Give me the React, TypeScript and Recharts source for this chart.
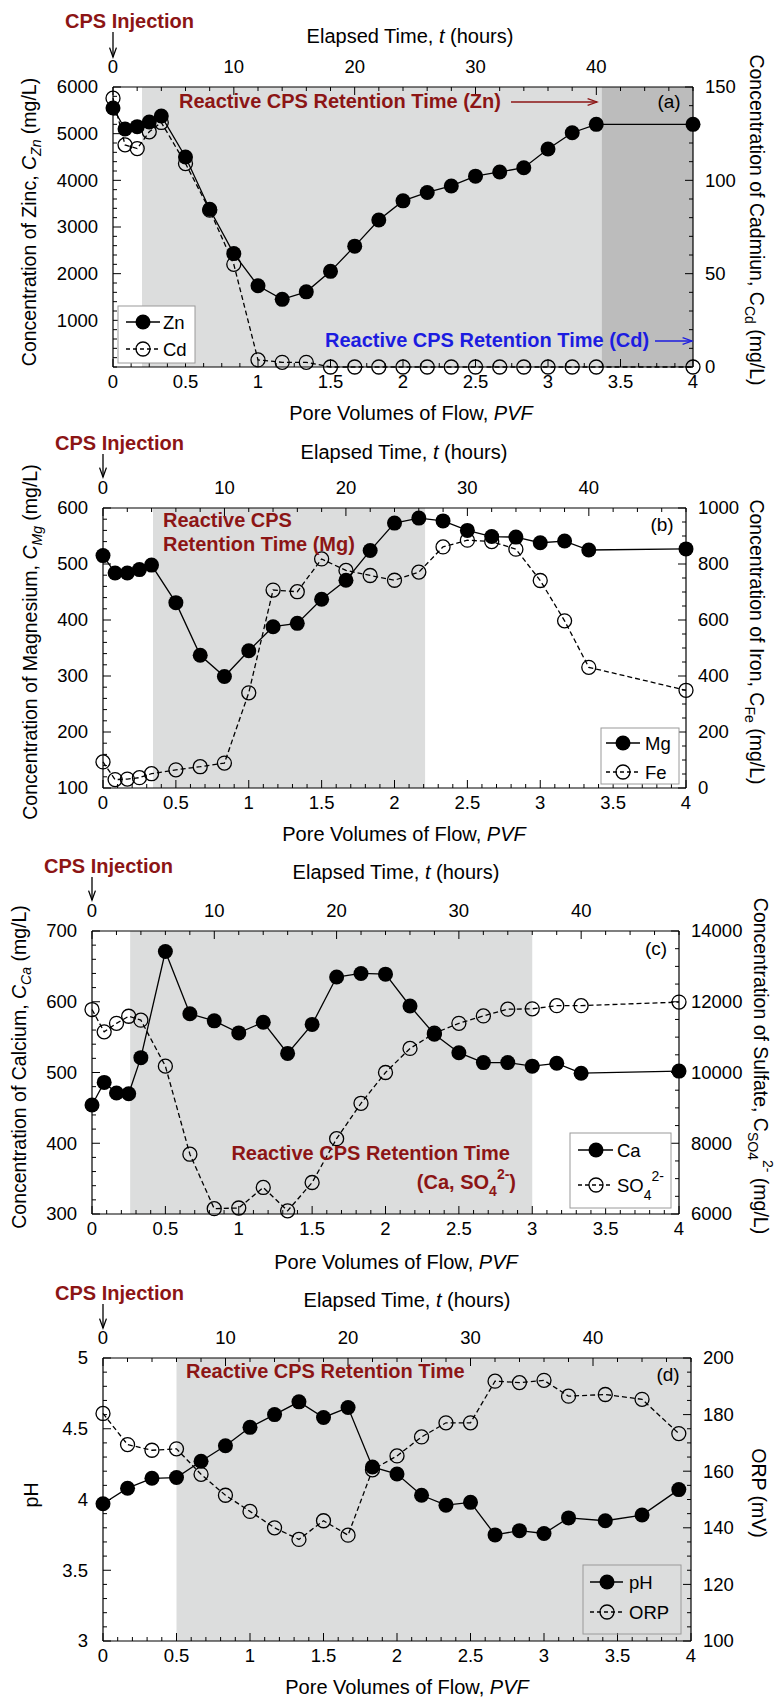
import React from 'react';
import { ComposedChart, Line, XAxis, YAxis, ReferenceArea } from 'recharts';

const FONT = "'Liberation Sans', Arial, Helvetica, sans-serif";
const RED = '#8c1515';
const BLUE = '#1c1ce0';
const SHADE = '#dcdddd';
const SHADE_DARK = '#bcbcbc';

// ---------- Panel (a): Zn / Cd ----------
const pvfA = [0, 0.083, 0.167, 0.25, 0.333, 0.5, 0.667, 0.833, 1, 1.167, 1.333, 1.5, 1.667, 1.833, 2, 2.167, 2.333, 2.5, 2.667, 2.833, 3, 3.167, 3.333, 4];
const zincA = [5550, 5100, 5150, 5250, 5380, 4500, 3380, 2430, 1740, 1450, 1610, 2050, 2590, 3150, 3560, 3740, 3880, 4090, 4180, 4270, 4670, 5020, 5200, 5200];
const cadmiumA = [144, 119, 117, 126, 131, 109, 84, 55, 3.8, 2.5, 2.5, 0, 0, 0, 0, 0, 0, 0, 0, 0, 0, 0, 0, 0];

// ---------- Panel (b): Mg / Fe ----------
const pvfB = [0, 0.083, 0.167, 0.25, 0.333, 0.5, 0.667, 0.833, 1, 1.167, 1.333, 1.5, 1.667, 1.833, 2, 2.167, 2.333, 2.5, 2.667, 2.833, 3, 3.167, 3.333, 4];
const magnesiumB = [515, 484, 484, 490, 498, 431, 337, 299, 345, 388, 394, 437, 471, 524, 573, 582, 577, 560, 549, 548, 538, 541, 525, 527];
const ironB = [93, 30, 32, 37, 51, 65, 76, 89, 340, 707, 701, 818, 777, 759, 742, 771, 861, 885, 880, 853, 741, 597, 431, 349];

// ---------- Panel (c): Ca / SO4 ----------
const pvfC = [0, 0.083, 0.167, 0.25, 0.333, 0.5, 0.667, 0.833, 1, 1.167, 1.333, 1.5, 1.667, 1.833, 2, 2.167, 2.333, 2.5, 2.667, 2.833, 3, 3.167, 3.333, 4];
const calciumC = [454, 486, 471, 470, 521, 671, 583, 573, 556, 571, 527, 568, 635, 640, 639, 594, 554, 528, 514, 514, 509, 513, 499, 502];
const sulfateC = [11780, 11150, 11390, 11590, 11480, 10180, 7690, 6150, 6170, 6750, 6090, 6890, 8130, 9130, 10000, 10680, 11110, 11390, 11600, 11790, 11800, 11890, 11890, 11990];

// ---------- Panel (d): pH / ORP ----------
const pvfD = [0, 0.167, 0.333, 0.5, 0.667, 0.833, 1, 1.167, 1.333, 1.5, 1.667, 1.833, 2, 2.167, 2.333, 2.5, 2.667, 2.833, 3, 3.167, 3.417, 3.667, 3.917];
const phD = [3.97, 4.08, 4.15, 4.155, 4.27, 4.38, 4.51, 4.6, 4.69, 4.58, 4.65, 4.23, 4.18, 4.03, 3.96, 3.98, 3.75, 3.78, 3.76, 3.87, 3.85, 3.89, 4.07];
const orpD = [180.4, 169.4, 167.4, 167.9, 158.9, 151.5, 145.8, 140, 135.9, 142.5, 137.4, 160.5, 165.4, 172.1, 177.1, 177.1, 191.8, 191.3, 192.1, 186.5, 187.1, 185.4, 173.3];

// ---------- Tick labels ----------
const pvfTicks = [0, 0.5, 1, 1.5, 2, 2.5, 3, 3.5, 4];
const timeTicks = [0, 10, 20, 30, 40];
const timeDomain: [number, number] = [0, 48];
const zincTicks = [1000, 2000, 3000, 4000, 5000, 6000];
const cadmiumTicks = [0, 50, 100, 150];
const magnesiumTicks = [100, 200, 300, 400, 500, 600];
const ironTicks = [0, 200, 400, 600, 800, 1000];
const calciumTicks = [300, 400, 500, 600, 700];
const sulfateTicks = [6000, 8000, 10000, 12000, 14000];
const phTicks = [3, 3.5, 4, 4.5, 5];
const orpTicks = [100, 120, 140, 160, 180, 200];

function steps(a: number, b: number, s: number): number[] {
  const out: number[] = [];
  const n = Math.round((b - a) / s);
  for (let i = 0; i <= n; i++) out.push(+(a + i * s).toFixed(6));
  return out;
}

type Orient = 'top' | 'bottom' | 'left' | 'right';

function makeTick(orient: Orient, majors: number[]) {
  return (props: any) => {
    const { x, y, payload } = props;
    const v = Number(payload?.value);
    const major = majors.some((m) => Math.abs(m - v) < 1e-6);
    const len = major ? 8 : 4;
    let x2 = x, y2 = y, tx = x, ty = y;
    let anchor: any = 'middle';
    let dy = '0';
    if (orient === 'bottom') { y2 = y - len; ty = y + 21; }
    else if (orient === 'top') { y2 = y + len; ty = y - 14; }
    else if (orient === 'left') { x2 = x + len; tx = x - 15; anchor = 'end'; dy = '0.35em'; }
    else { x2 = x - len; tx = x + 12; anchor = 'start'; dy = '0.35em'; }
    return (
      <g>
        <line x1={x} y1={y} x2={x2} y2={y2} stroke="#000" strokeWidth={1} />
        {major ? (
          <text x={tx} y={ty} dy={dy} textAnchor={anchor} fontSize={18.5} fontFamily={FONT} fill="#000">
            {String(v)}
          </text>
        ) : null}
      </g>
    );
  };
}

const filledDot = (props: any) => (
  <circle key={`f${props.index}`} cx={props.cx} cy={props.cy} r={7.5} fill="#000" stroke="none" />
);
const openDot = (props: any) => (
  <circle key={`o${props.index}`} cx={props.cx} cy={props.cy} r={7} fill="none" stroke="#000" strokeWidth={1.3} />
);

const AXIS = { stroke: '#000', strokeWidth: 1.2 };

type Box = { left: number; right: number; top: number; bottom: number };
type PanelProps = {
  box: Box;
  data: Record<string, number>[];
  filledKey: string;
  openKey: string;
  leftDomain: [number, number];
  leftMajor: number[];
  leftMinor: number;
  rightDomain: [number, number];
  rightMajor: number[];
  rightMinor: number;
  pvfMinor: number;
  shades: { x1: number; x2: number; fill: string }[];
};

function Panel(p: PanelProps) {
  const PAD = 40;
  const W = 780;
  const H = p.box.bottom - p.box.top + 2 * PAD;
  return (
    <div style={{ position: 'absolute', left: 0, top: p.box.top - PAD, width: W, height: H }}>
      <ComposedChart width={W} height={H} data={p.data} margin={{ top: 0, right: 0, bottom: 0, left: 0 }}>
        {p.shades.map((s, i) => (
          <ReferenceArea key={`s${i}`} xAxisId="pvf" yAxisId="L" x1={s.x1} x2={s.x2} fill={s.fill} fillOpacity={1} stroke="none" />
        ))}
        <XAxis
          xAxisId="pvf" dataKey="pvf" type="number" domain={[0, 4]} orientation="bottom" height={PAD}
          ticks={steps(0, 4, p.pvfMinor)} interval={0} tickSize={0} tickMargin={0} tickLine={false}
          axisLine={AXIS} tick={makeTick('bottom', pvfTicks)}
        />
        <XAxis
          xAxisId="time" dataKey="pvf" type="number" domain={timeDomain} allowDataOverflow orientation="top" height={PAD}
          ticks={steps(timeDomain[0], timeDomain[1], 2)} interval={0} tickSize={0} tickMargin={0} tickLine={false}
          axisLine={AXIS} tick={makeTick('top', timeTicks)}
        />
        <YAxis
          yAxisId="L" type="number" domain={p.leftDomain} orientation="left" width={p.box.left}
          ticks={steps(p.leftDomain[0], p.leftDomain[1], p.leftMinor)} interval={0} tickSize={0} tickMargin={0}
          tickLine={false} axisLine={AXIS} tick={makeTick('left', p.leftMajor)}
        />
        <YAxis
          yAxisId="R" type="number" domain={p.rightDomain} orientation="right" width={W - p.box.right}
          ticks={steps(p.rightDomain[0], p.rightDomain[1], p.rightMinor)} interval={0} tickSize={0} tickMargin={0}
          tickLine={false} axisLine={AXIS} tick={makeTick('right', p.rightMajor)}
        />
        <Line
          xAxisId="pvf" yAxisId="R" type="linear" dataKey={p.openKey} stroke="#000" strokeWidth={1.3}
          strokeDasharray="5 3" dot={openDot} activeDot={false} isAnimationActive={false}
        />
        <Line
          xAxisId="pvf" yAxisId="L" type="linear" dataKey={p.filledKey} stroke="#000" strokeWidth={1.3}
          dot={filledDot} activeDot={false} isAnimationActive={false}
        />
      </ComposedChart>
    </div>
  );
}

function Txt(props: { x: number; y: number; size?: number; bold?: boolean; color?: string; anchor?: any; children: React.ReactNode }) {
  return (
    <text
      x={props.x} y={props.y} fontSize={props.size ?? 20} fontWeight={props.bold ? 'bold' : 'normal'}
      fill={props.color ?? '#000'} textAnchor={props.anchor ?? 'start'} fontFamily={FONT}
    >
      {props.children}
    </text>
  );
}

function VTitle(props: { x: number; y: number; dir: 1 | -1; children: React.ReactNode }) {
  const off = 7;
  const cx = props.dir < 0 ? props.x + off : props.x - off;
  return (
    <text
      x={cx} y={props.y} transform={`rotate(${props.dir * 90} ${cx} ${props.y})`} textAnchor="middle"
      fontSize={19.5} fontFamily={FONT} fill="#000"
    >
      {props.children}
    </text>
  );
}

function Arrow(props: { x1: number; y1: number; x2: number; y2: number; color: string }) {
  const { x1, y1, x2, y2, color } = props;
  const ang = Math.atan2(y2 - y1, x2 - x1);
  const L = 10, A = 0.35;
  const p1 = `${x2 - L * Math.cos(ang - A)},${y2 - L * Math.sin(ang - A)}`;
  const p2 = `${x2 - L * Math.cos(ang + A)},${y2 - L * Math.sin(ang + A)}`;
  return (
    <g>
      <line x1={x1} y1={y1} x2={x2} y2={y2} stroke={color} strokeWidth={1.3} />
      <polyline points={`${p1} ${x2},${y2} ${p2}`} fill="none" stroke={color} strokeWidth={1.3} />
    </g>
  );
}

type LegendRow = { cy: number; open: boolean; label: React.ReactNode };
function LegendBox(props: { x: number; y: number; w: number; h: number; bg: string; lx1: number; lx2: number; mx: number; tx: number; rows: LegendRow[] }) {
  const p = props;
  return (
    <g>
      <rect x={p.x} y={p.y} width={p.w} height={p.h} fill={p.bg} stroke="#9a9a9a" strokeWidth={1} />
      {p.rows.map((r, i) => (
        <g key={i}>
          <line x1={p.lx1} y1={r.cy} x2={p.lx2} y2={r.cy} stroke="#000" strokeWidth={1.3} strokeDasharray={r.open ? '4 3' : undefined} />
          {r.open ? (
            <circle cx={p.mx} cy={r.cy} r={7} fill="none" stroke="#000" strokeWidth={1.3} />
          ) : (
            <circle cx={p.mx} cy={r.cy} r={7.5} fill="#000" />
          )}
          <text x={p.tx} y={r.cy + 6.5} fontSize={18.5} fontFamily={FONT} fill="#000">{r.label}</text>
        </g>
      ))}
    </g>
  );
}

function TopTitles(props: { cpsX: number; cpsY: number; axisX: number; arrowY1: number; arrowY2: number; etX: number; etY: number; pvX: number; pvY: number }) {
  const p = props;
  return (
    <g>
      <Txt x={p.cpsX} y={p.cpsY} bold color={RED}>CPS Injection</Txt>
      <Arrow x1={p.axisX} y1={p.arrowY1} x2={p.axisX} y2={p.arrowY2} color="#000" />
      <Txt x={p.etX} y={p.etY} anchor="middle">
        Elapsed Time, <tspan fontStyle="italic">t</tspan> (hours)
      </Txt>
      <Txt x={p.pvX} y={p.pvY} anchor="middle">
        Pore Volumes of Flow, <tspan fontStyle="italic">PVF</tspan>
      </Txt>
    </g>
  );
}

export default function App() {
  const dataA = pvfA.map((pvf, i) => ({ pvf, zn: zincA[i], cd: cadmiumA[i] }));
  const dataB = pvfB.map((pvf, i) => ({ pvf, mg: magnesiumB[i], fe: ironB[i] }));
  const dataC = pvfC.map((pvf, i) => ({ pvf, ca: calciumC[i], so4: sulfateC[i] }));
  const dataD = pvfD.map((pvf, i) => ({ pvf, ph: phD[i], orp: orpD[i] }));

  return (
    <div style={{ position: 'absolute', left: 0, top: 0, width: 780, height: 1699, background: '#fff', overflow: 'hidden' }}>
      <Panel
        box={{ left: 113, right: 693, top: 87, bottom: 367 }} data={dataA} filledKey="zn" openKey="cd"
        leftDomain={[0, 6000]} leftMajor={zincTicks} leftMinor={200}
        rightDomain={[0, 150]} rightMajor={cadmiumTicks} rightMinor={10} pvfMinor={0.125}
        shades={[{ x1: 0.2, x2: 3.37, fill: SHADE }, { x1: 3.37, x2: 4, fill: SHADE_DARK }]}
      />
      <Panel
        box={{ left: 103, right: 686, top: 508, bottom: 788 }} data={dataB} filledKey="mg" openKey="fe"
        leftDomain={[100, 600]} leftMajor={magnesiumTicks} leftMinor={20}
        rightDomain={[0, 1000]} rightMajor={ironTicks} rightMinor={50} pvfMinor={0.1}
        shades={[{ x1: 0.343, x2: 2.21, fill: SHADE }]}
      />
      <Panel
        box={{ left: 92, right: 679, top: 931, bottom: 1214 }} data={dataC} filledKey="ca" openKey="so4"
        leftDomain={[300, 700]} leftMajor={calciumTicks} leftMinor={20}
        rightDomain={[6000, 14000]} rightMajor={sulfateTicks} rightMinor={500} pvfMinor={0.1}
        shades={[{ x1: 0.26, x2: 3.0, fill: SHADE }]}
      />
      <Panel
        box={{ left: 103, right: 691, top: 1358, bottom: 1641 }} data={dataD} filledKey="ph" openKey="orp"
        leftDomain={[3, 5]} leftMajor={phTicks} leftMinor={0.1}
        rightDomain={[100, 200]} rightMajor={orpTicks} rightMinor={5} pvfMinor={0.1}
        shades={[{ x1: 0.5, x2: 4, fill: SHADE }]}
      />

      <svg width={780} height={1699} style={{ position: 'absolute', left: 0, top: 0, pointerEvents: 'none' }}>
        {/* Panel (a) */}
        <TopTitles cpsX={65} cpsY={28} axisX={113} arrowY1={32} arrowY2={57} etX={410} etY={43} pvX={411} pvY={420} />
        <VTitle x={29} y={222} dir={-1}>
          Concentration of Zinc, <tspan fontStyle="italic">C</tspan>
          <tspan fontSize={14} dy={5} fontStyle="italic">Zn</tspan>
          <tspan dy={-5}> (mg/L)</tspan>
        </VTitle>
        <VTitle x={757} y={220} dir={1}>
          Concentration of Cadmiun, C<tspan fontSize={14} dy={5}>Cd</tspan>
          <tspan dy={-5}> (mg/L)</tspan>
        </VTitle>
        <Txt x={179} y={108} bold color={RED}>Reactive CPS Retention Time (Zn)</Txt>
        <Arrow x1={511} y1={102} x2={597} y2={102} color={RED} />
        <Txt x={669} y={108} anchor="middle" size={19}>(a)</Txt>
        <Txt x={325} y={347} bold color={BLUE}>Reactive CPS Retention Time (Cd)</Txt>
        <Arrow x1={655} y1={341} x2={692} y2={341} color={BLUE} />
        <LegendBox
          x={118} y={306} w={77} h={57} bg="#fff" lx1={126} lx2={160} mx={143} tx={163}
          rows={[{ cy: 322, open: false, label: 'Zn' }, { cy: 349, open: true, label: 'Cd' }]}
        />

        {/* Panel (b) */}
        <TopTitles cpsX={55} cpsY={450} axisX={103} arrowY1={454} arrowY2={477} etX={404} etY={459} pvX={404} pvY={841} />
        <VTitle x={30} y={642} dir={-1}>
          Concentration of Magnesium, <tspan fontStyle="italic">C</tspan>
          <tspan fontSize={14} dy={5} fontStyle="italic">Mg</tspan>
          <tspan dy={-5}> (mg/L)</tspan>
        </VTitle>
        <VTitle x={757} y={642} dir={1}>
          Concentration of Iron, C<tspan fontSize={14} dy={5}>Fe</tspan>
          <tspan dy={-5}> (mg/L)</tspan>
        </VTitle>
        <Txt x={163} y={527} bold color={RED}>Reactive CPS</Txt>
        <Txt x={163} y={551} bold color={RED}>Retention Time (Mg)</Txt>
        <Txt x={662} y={531} anchor="middle" size={19}>(b)</Txt>
        <LegendBox
          x={601} y={728} w={78} h={56} bg="#fff" lx1={606} lx2={640} mx={623} tx={645}
          rows={[{ cy: 743, open: false, label: 'Mg' }, { cy: 772, open: true, label: 'Fe' }]}
        />

        {/* Panel (c) */}
        <TopTitles cpsX={44} cpsY={873} axisX={92} arrowY1={877} arrowY2={900} etX={396} etY={879} pvX={396} pvY={1269} />
        <VTitle x={19} y={1067} dir={-1}>
          Concentration of Calcium, <tspan fontStyle="italic">C</tspan>
          <tspan fontSize={14} dy={5} fontStyle="italic">Ca</tspan>
          <tspan dy={-5}> (mg/L)</tspan>
        </VTitle>
        <VTitle x={761} y={1066} dir={1}>
          Concentration of Sulfate, C<tspan fontSize={14} dy={6}>SO4</tspan>
          <tspan fontSize={14} dy={-15}>2-</tspan>
          <tspan dy={9}> (mg/L)</tspan>
        </VTitle>
        <Txt x={510} y={1160} bold color={RED} anchor="end">Reactive CPS Retention Time</Txt>
        <Txt x={516} y={1189} bold color={RED} anchor="end">
          (Ca, SO<tspan fontSize={14} dy={7}>4</tspan>
          <tspan fontSize={14} dy={-17}>2-</tspan>
          <tspan dy={10}>)</tspan>
        </Txt>
        <Txt x={656} y={955} anchor="middle" size={19}>(c)</Txt>
        <LegendBox
          x={570} y={1133} w={101} h={75} bg="#fff" lx1={578} lx2={613} mx={596} tx={617}
          rows={[
            { cy: 1150, open: false, label: 'Ca' },
            {
              cy: 1185, open: true,
              label: (
                <>
                  SO<tspan fontSize={14} dy={8}>4</tspan>
                  <tspan fontSize={14} dy={-19}>2-</tspan>
                </>
              ),
            },
          ]}
        />

        {/* Panel (d) */}
        <TopTitles cpsX={55} cpsY={1300} axisX={103} arrowY1={1304} arrowY2={1328} etX={407} etY={1307} pvX={407} pvY={1694} />
        <VTitle x={31} y={1495} dir={-1}>pH</VTitle>
        <VTitle x={759} y={1493} dir={1}>ORP (mV)</VTitle>
        <Txt x={186} y={1378} bold color={RED}>Reactive CPS Retention Time</Txt>
        <Txt x={668} y={1381} anchor="middle" size={19}>(d)</Txt>
        <LegendBox
          x={583} y={1565} w={98} h={69} bg="none" lx1={590} lx2={623} mx={607} tx={629}
          rows={[{ cy: 1582, open: false, label: 'pH' }, { cy: 1612, open: true, label: 'ORP' }]}
        />
      </svg>
    </div>
  );
}
